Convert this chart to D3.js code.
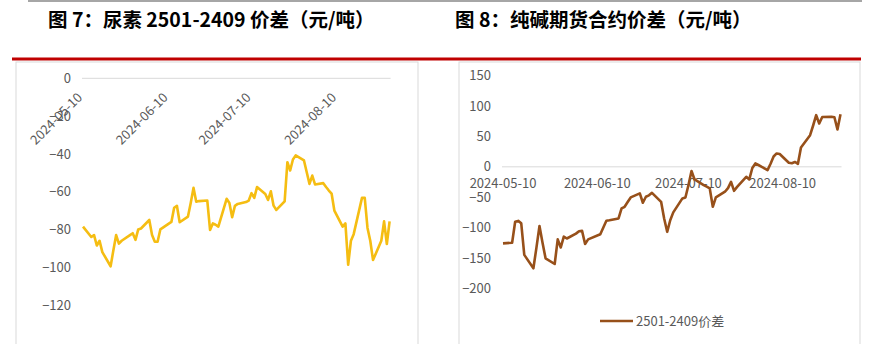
<!DOCTYPE html>
<html>
<head>
<meta charset="utf-8">
<script src="https://cdn.jsdelivr.net/npm/d3@7"></script>
<style>
    body { margin: 0; background: #fff; }
    text { font-family: "Noto Sans CJK SC", "Noto Sans", sans-serif; }
</style>
</head>
<body>
<svg id="chart" width="869" height="344"></svg>
<script>
// 图7: 尿素 2501-2409 价差
const ureaDates = ["2024-05-10","2024-05-13","2024-05-14","2024-05-15","2024-05-16","2024-05-17","2024-05-20","2024-05-21",
    "2024-05-22","2024-05-23","2024-05-24","2024-05-27","2024-05-28","2024-05-29","2024-05-30","2024-05-31",
    "2024-06-03","2024-06-04","2024-06-05","2024-06-06","2024-06-07","2024-06-11","2024-06-12","2024-06-13",
    "2024-06-14","2024-06-17","2024-06-18","2024-06-19","2024-06-20","2024-06-21","2024-06-24","2024-06-25",
    "2024-06-26","2024-06-27","2024-06-28","2024-07-01","2024-07-02","2024-07-03","2024-07-04","2024-07-05",
    "2024-07-08","2024-07-09","2024-07-10","2024-07-11","2024-07-12","2024-07-15","2024-07-16","2024-07-17",
    "2024-07-18","2024-07-19","2024-07-22","2024-07-23","2024-07-24","2024-07-25","2024-07-26","2024-07-29",
    "2024-07-30","2024-07-31","2024-08-01","2024-08-02","2024-08-05","2024-08-06","2024-08-07","2024-08-08",
    "2024-08-09","2024-08-12","2024-08-13","2024-08-14","2024-08-15","2024-08-16","2024-08-19","2024-08-20",
    "2024-08-21","2024-08-22","2024-08-23","2024-08-26","2024-08-27","2024-08-28","2024-08-29"];
const ureaSpread = [-78.5,-84,-83,-88.5,-86,-92,-99.5,-91,
    -83,-87.5,-86,-83,-82,-85.5,-80,-79.5,
    -75,-83,-86.5,-86.5,-80,-76,-68.5,-67.5,
    -76.2,-73.2,-66,-58,-65.3,-65,-64.7,-80.3,
    -76.8,-77.5,-78.5,-63.8,-66,-73.5,-67.5,-66.5,
    -65.5,-64.7,-60.8,-63.3,-57.6,-61.2,-64.4,-59.8,
    -67.4,-69.7,-65.1,-44.4,-48.8,-43,-40.8,-43.5,
    -49.7,-55.9,-51.5,-56.2,-55.5,-57.5,-59.4,-61,
    -70,-78.5,-76.8,-98.7,-86,-82.5,-63.3,-63.3,
    -79.2,-86,-96.2,-86,-75.7,-87.7,-75.7];

// 图8: 纯碱期货合约价差
const sodaDates = ["2024-05-10","2024-05-13","2024-05-14","2024-05-15","2024-05-16","2024-05-17","2024-05-20","2024-05-21",
    "2024-05-22","2024-05-23","2024-05-24","2024-05-27","2024-05-28","2024-05-29","2024-05-30","2024-05-31",
    "2024-06-03","2024-06-04","2024-06-05","2024-06-06","2024-06-07","2024-06-11","2024-06-12","2024-06-13",
    "2024-06-14","2024-06-17","2024-06-18","2024-06-19","2024-06-20","2024-06-21","2024-06-24","2024-06-25",
    "2024-06-26","2024-06-27","2024-06-28","2024-07-01","2024-07-02","2024-07-03","2024-07-04","2024-07-05",
    "2024-07-08","2024-07-09","2024-07-10","2024-07-11","2024-07-12","2024-07-15","2024-07-16","2024-07-17",
    "2024-07-18","2024-07-19","2024-07-22","2024-07-23","2024-07-24","2024-07-25","2024-07-26","2024-07-29",
    "2024-07-30","2024-07-31","2024-08-01","2024-08-02","2024-08-05","2024-08-06","2024-08-07","2024-08-08",
    "2024-08-09","2024-08-12","2024-08-13","2024-08-14","2024-08-15","2024-08-16","2024-08-19","2024-08-20",
    "2024-08-21","2024-08-22","2024-08-23","2024-08-26","2024-08-27","2024-08-28","2024-08-29"];
const sodaSpread = [-126,-125,-90.5,-89,-93,-145,-167,-133,
    -97.5,-125,-150.7,-160,-119.5,-132.7,-115,-118,
    -110,-106,-105.5,-127,-119.5,-111,-99.8,-88.8,
    -88,-85,-68.5,-65.8,-58,-50.4,-43.8,-59.2,
    -49.3,-47,-42.8,-57.6,-85,-107,-88,-75,
    -52,-50.5,-30,-7,-20.8,-30,-32.8,-35.6,
    -65.8,-50.4,-41,-35,-24.7,-39.5,-33,-16.4,
    -20.8,-2,5.6,3,-5.4,5,17,22,
    21,6.6,6,8,5,31.9,52,68,
    85,71.3,82,82.5,81.5,61.5,86.7];

const dateTicks = ["2024-05-10", "2024-06-10", "2024-07-10", "2024-08-10"];
const ureaTicks = [0, -20, -40, -60, -80, -100, -120];
const sodaTicks = [150, 100, 50, 0, -50, -100, -150, -200];
const titles = ["图 7：尿素 2501-2409 价差（元/吨）", "图 8：纯碱期货合约价差（元/吨）"];
const sodaLegend = "2501-2409价差";

const parseDate = d3.timeParse("%Y-%m-%d");
const dateDomain = [parseDate("2024-05-10"), parseDate("2024-08-29")];

const svg = d3.select("#chart");
const tickColor = "#595959";

// page furniture: top rule, titles, red rule, panel frames
svg.append("rect").attr("x", 28).attr("y", 0).attr("width", 834).attr("height", 2).attr("fill", "#a6a6a6");

svg.selectAll("text.title")
    .data(titles)
    .enter().append("text")
    .attr("class", "title")
    .attr("x", (d, i) => i === 0 ? 48 : 455)
    .attr("y", 27)
    .attr("font-size", "19.5px")
    .attr("font-weight", "bold")
    .attr("fill", "#000")
    .text(d => d);

svg.append("rect").attr("x", 16).attr("y", 62).attr("width", 402).attr("height", 300)
    .attr("fill", "none").attr("stroke", "#d9d9d9");
svg.append("rect").attr("x", 459).attr("y", 62).attr("width", 401).attr("height", 300)
    .attr("fill", "none").attr("stroke", "#d9d9d9");

svg.append("rect").attr("x", 12).attr("y", 57.5).attr("width", 849).attr("height", 3).attr("fill", "#c00000");

function drawPanel(opts) {
    const x = d3.scaleTime().domain(dateDomain).range(opts.xRange);
    const y = d3.scaleLinear().domain(opts.yDomain).range(opts.yRange);
    const g = svg.append("g");

    // zero line
    g.append("line")
        .attr("x1", opts.xRange[0] - 1).attr("x2", opts.xRange[1] + 1)
        .attr("y1", y(0)).attr("y2", y(0))
        .attr("stroke", "#d9d9d9").attr("stroke-width", 1);

    g.selectAll("text.ytick")
        .data(opts.yTicks)
        .enter().append("text")
        .attr("class", "ytick")
        .attr("x", opts.yLabelX)
        .attr("y", d => y(d))
        .attr("dy", "0.36em")
        .attr("text-anchor", "end")
        .attr("font-size", "13px")
        .attr("fill", tickColor)
        .text(d => d3.format("d")(d));

    const xl = g.selectAll("text.xtick")
        .data(dateTicks)
        .enter().append("text")
        .attr("class", "xtick")
        .attr("font-size", "13px")
        .attr("fill", tickColor)
        .text(d => d);

    if (opts.rotate) {
        // slanted labels hang from the zero line
        xl.attr("text-anchor", "end")
            .attr("transform", d => `translate(${x(parseDate(d))}, ${y(0) + 20}) rotate(-45)`);
    } else {
        xl.attr("text-anchor", "middle")
            .attr("x", d => x(parseDate(d)))
            .attr("y", y(0) + 21);
    }

    const line = d3.line()
        .x((d, i) => x(parseDate(opts.dates[i])))
        .y(d => y(d));

    g.append("path")
        .datum(opts.values)
        .attr("fill", "none")
        .attr("stroke", opts.color)
        .attr("stroke-width", 2.6)
        .attr("stroke-linejoin", "round")
        .attr("d", line);

    return g;
}

drawPanel({
    dates: ureaDates, values: ureaSpread, color: "#f5bd12",
    xRange: [83, 389.6], yDomain: [-120, 0], yRange: [305, 78.3],
    yTicks: ureaTicks, yLabelX: 71, rotate: true
});

const soda = drawPanel({
    dates: sodaDates, values: sodaSpread, color: "#97501a",
    xRange: [503, 840.5], yDomain: [-200, 150], yRange: [288.3, 75.7],
    yTicks: sodaTicks, yLabelX: 491, rotate: false
});

// legend
soda.append("line")
    .attr("x1", 600).attr("x2", 633).attr("y1", 321).attr("y2", 321)
    .attr("stroke", "#97501a").attr("stroke-width", 2.6);
soda.append("text")
    .attr("x", 636).attr("y", 321).attr("dy", "0.36em")
    .attr("font-size", "13px").attr("fill", tickColor)
    .text(sodaLegend);
</script>
</body>
</html>
